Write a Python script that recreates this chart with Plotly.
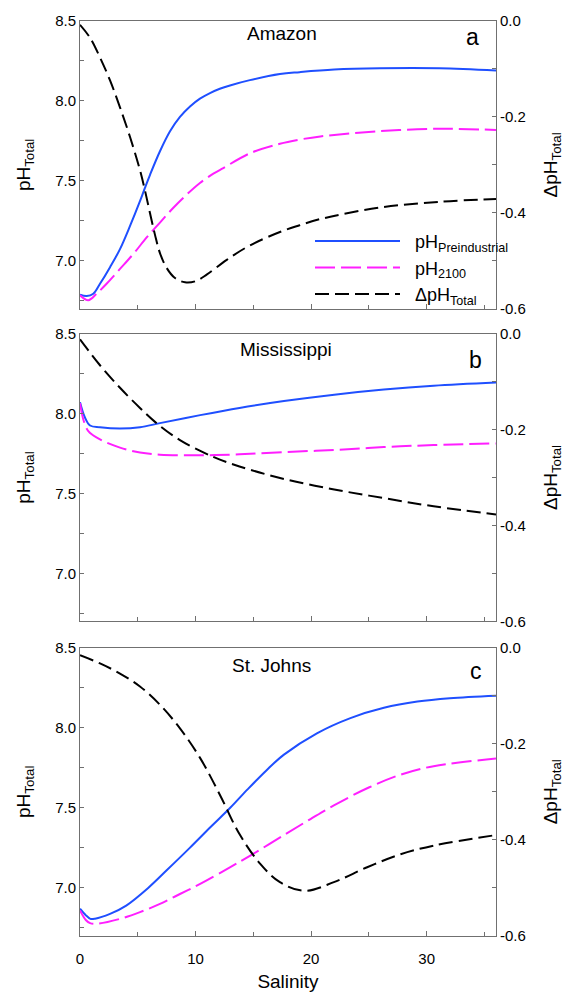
import plotly.graph_objects as go

# ---------------- data ----------------
# Panel a: Amazon
sal_a = [0, 0.58, 1.15, 1.73, 2.6, 3.46, 4.33, 5.19, 5.62, 6.06, 6.92, 7.79, 8.65, 9.52,
         10.38, 11.25, 12.1, 12.98, 14.7, 17.3, 19.0, 22.0, 25.95, 31.1, 36.0]
ph_pre_a = [6.788, 6.78, 6.794, 6.856, 6.96, 7.073, 7.218, 7.373, 7.456, 7.538, 7.685, 7.81,
            7.90, 7.965, 8.014, 8.049, 8.076, 8.097, 8.13, 8.168, 8.18, 8.196, 8.204, 8.204, 8.19]
sal_a2 = [0, 0.72, 1.44, 2.3, 3.46, 4.61, 5.77, 6.92, 8.08, 9.23, 10.38, 11.54, 12.4,
          14.7, 17.3, 19.0, 20.8, 25.95, 31.1, 36.0]
ph_2100_a = [6.784, 6.753, 6.794, 6.856, 6.949, 7.042, 7.146, 7.239, 7.332, 7.414, 7.487,
             7.545, 7.58, 7.672, 7.732, 7.758, 7.778, 7.811, 7.826, 7.818]
sal_a3 = [0, 0.87, 1.73, 2.6, 3.46, 4.33, 5.19, 5.62, 6.06, 6.49, 6.92, 7.5, 8.22, 9.09,
          9.95, 10.96, 12.7, 14.7, 17.3, 19.0, 20.8, 25.95, 31.1, 36.0]
dph_a = [-0.008, -0.035, -0.076, -0.124, -0.18, -0.242, -0.311, -0.353, -0.401, -0.446,
         -0.484, -0.515, -0.536, -0.545, -0.543, -0.529, -0.498, -0.468, -0.44, -0.426,
         -0.413, -0.389, -0.377, -0.371]

# Panel b: Mississippi
sal_b = [0, 0.4, 0.87, 1.73, 3.46, 5.19, 6.92, 10.4, 13.8, 17.65, 22.0, 26.3, 30.6, 36.0]
ph_pre_b = [8.07, 7.98, 7.925, 7.914, 7.906, 7.914, 7.94, 7.99, 8.035, 8.078, 8.118, 8.150,
            8.174, 8.194]
sal_b2 = [0, 0.3, 0.72, 1.73, 3.46, 5.19, 6.92, 10.4, 13.8, 17.65, 22.0, 26.3, 30.6, 36.0]
ph_2100_b = [8.065, 7.96, 7.89, 7.838, 7.787, 7.756, 7.743, 7.739, 7.745, 7.759, 7.772, 7.79,
             7.803, 7.813]
sal_b3 = [0, 1.73, 3.46, 5.19, 6.49, 8.65, 11.53, 13.8, 17.65, 22.0, 26.3, 30.6, 36.0]
dph_b = [-0.012, -0.066, -0.113, -0.155, -0.184, -0.222, -0.257, -0.277, -0.303, -0.325,
         -0.343, -0.36, -0.377]

# Panel c: St. Johns
sal_c = [0, 0.5, 0.9, 1.3, 2.6, 4.0, 5.9, 7.5, 9.5, 11.3, 13.0, 14.5, 16.15, 17.65, 20.5,
         23.4, 26.3, 29.2, 32.0, 36.0]
ph_pre_c = [6.87, 6.83, 6.807, 6.808, 6.838, 6.89, 7.0, 7.11, 7.25, 7.38, 7.5, 7.615, 7.735,
            7.832, 7.965, 8.06, 8.124, 8.163, 8.184, 8.20]
sal_c2 = [0, 0.5, 0.87, 1.44, 3.46, 5.19, 6.92, 8.65, 10.4, 12.97, 14.7, 17.65, 19.95,
          21.97, 24.85, 27.74, 30.6, 36.0]
ph_2100_c = [6.86, 6.8, 6.78, 6.776, 6.807, 6.849, 6.90, 6.962, 7.025, 7.128, 7.20, 7.33,
             7.43, 7.515, 7.622, 7.707, 7.76, 7.807]
sal_c3 = [0, 1.73, 3.46, 5.19, 6.92, 8.65, 10.4, 12.1, 13.8, 15.6, 17.3, 19.4, 21.97, 24.85,
          27.74, 30.6, 36.0]
dph_c = [-0.016, -0.033, -0.054, -0.081, -0.119, -0.168, -0.23, -0.306, -0.388, -0.45,
         -0.488, -0.506, -0.488, -0.457, -0.43, -0.412, -0.39]

panel_names = ["Amazon", "Mississippi", "St. Johns"]
panel_letters = ["a", "b", "c"]
series_names = ["pH<sub>Preindustrial</sub>", "pH<sub>2100</sub>", "ΔpH<sub>Total</sub>"]
x_ticks = [0, 10, 20, 30]
ph_ticks = [7.0, 7.5, 8.0, 8.5]
dph_ticks = [-0.6, -0.4, -0.2, 0.0]
dph_ticklabels = ["-0.6", "-0.4", "-0.2", "0.0"]

# ---------------- styling / layout ----------------
W, H = 574, 1000
ML, MR, MT, MB = 80, 78, 19, 61
PW, PH = W - ML - MR, H - MT - MB
FONT = "Liberation Sans, Arial, sans-serif"
AXC = "#707070"
BLUE = "#1f4fff"
MAG = "#ff1fff"
NB = "\u00a0\u00a0"  # small gap between legend sample and its text

panel_px = [(19, 308.3), (333.3, 622.7), (649, 939)]


def py(ypx):
    return 1 - (ypx - MT) / PH


def px(xpx):
    return (xpx - ML) / PW


panels = [
    (sal_a, ph_pre_a, sal_a2, ph_2100_a, sal_a3, dph_a),
    (sal_b, ph_pre_b, sal_b2, ph_2100_b, sal_b3, dph_b),
    (sal_c, ph_pre_c, sal_c2, ph_2100_c, sal_c3, dph_c),
]

fig = go.Figure()
layout = dict(
    width=W, height=H,
    margin=dict(l=ML, r=MR, t=MT, b=MB, pad=0),
    paper_bgcolor="white", plot_bgcolor="white",
    font=dict(family=FONT, size=15, color="black"),
    showlegend=True,
    legend=dict(
        x=px(310), y=py(222), xanchor="left", yanchor="top",
        bgcolor="rgba(0,0,0,0)", borderwidth=0,
        font=dict(family=FONT, size=18, color="black"),
        itemwidth=85, tracegroupgap=0,
    ),
)
annotations = []

for i, (sx1, y1, sx2, y2, sx3, y3) in enumerate(panels):
    xa = "x" if i == 0 else f"x{i+1}"
    ya_l = "y" if i == 0 else f"y{2*i+1}"
    ya_r = f"y{2*i+2}"
    show = (i == 0)
    fig.add_trace(go.Scatter(x=sx1, y=y1, xaxis=xa, yaxis=ya_l, mode="lines",
                             line=dict(color=BLUE, width=2, shape="spline", smoothing=1.0),
                             name=NB + series_names[0], showlegend=show))
    fig.add_trace(go.Scatter(x=sx2, y=y2, xaxis=xa, yaxis=ya_l, mode="lines",
                             line=dict(color=MAG, width=2, dash="20px,6px", shape="spline",
                                       smoothing=1.0),
                             name=NB + series_names[1], showlegend=show))
    fig.add_trace(go.Scatter(x=sx3, y=y3, xaxis=xa, yaxis=ya_r, mode="lines",
                             line=dict(color="black", width=2, dash="14px,6px", shape="spline",
                                       smoothing=1.0),
                             name=NB + series_names[2], showlegend=show))

    top, bot = panel_px[i]
    dom = [py(bot), py(top)]
    xkey = "xaxis" if i == 0 else f"xaxis{i+1}"
    ylkey = "yaxis" if i == 0 else f"yaxis{2*i+1}"
    yrkey = f"yaxis{2*i+2}"
    layout[xkey] = dict(
        domain=[0, 1], anchor=ya_l, range=[0, 36],
        showline=True, linecolor=AXC, linewidth=1, mirror=True,
        ticks="inside", ticklen=5, tickcolor=AXC, tickwidth=1,
        tickmode="array", tickvals=x_ticks, showticklabels=(i == 2),
        tickfont=dict(size=15), showgrid=False, zeroline=False,
        minor=dict(ticks="inside", ticklen=4, tickcolor=AXC, dtick=5, tick0=0),
    )
    if i == 2:
        layout[xkey]["ticklabelstandoff"] = 9
        layout[xkey]["title"] = dict(text="Salinity", font=dict(size=19), standoff=8)
    layout[ylkey] = dict(
        domain=dom, anchor=xa, range=[6.7, 8.5],
        showline=True, linecolor=AXC, linewidth=1,
        ticks="inside", ticklen=4, tickcolor=AXC, tickwidth=1,
        tickmode="array", tickvals=ph_ticks, tickformat=".1f",
        tickfont=dict(size=15), showgrid=False, zeroline=False,
        minor=dict(ticks="inside", ticklen=4, tickcolor=AXC,
                   tickmode="array", tickvals=[6.75, 7.25, 7.75, 8.25]),
        title=dict(text="pH<sub>Total</sub>", font=dict(size=19), standoff=19),
    )
    layout[yrkey] = dict(
        overlaying=ya_l, side="right", anchor=xa, range=[-0.6, 0.0],
        showline=True, linecolor=AXC, linewidth=1,
        ticks="inside", ticklen=4, tickcolor=AXC, tickwidth=1,
        tickmode="array", tickvals=dph_ticks, ticktext=dph_ticklabels,
        tickfont=dict(size=15), showgrid=False, zeroline=False,
        minor=dict(ticks="inside", ticklen=4, tickcolor=AXC,
                   tickmode="array", tickvals=[-0.5, -0.3, -0.1]),
        title=dict(text="ΔpH<sub>Total</sub>", font=dict(size=19), standoff=18),
    )

title_pos = [(282, 32), (286, 349), (271, 667)]
letter_pos = [(472, 35), (475, 360), (476, 673)]
for i in range(3):
    annotations.append(dict(text=panel_names[i], xref="paper", yref="paper",
                            x=px(title_pos[i][0]), y=py(title_pos[i][1]),
                            xanchor="center", yanchor="middle", showarrow=False,
                            font=dict(size=19)))
    annotations.append(dict(text=panel_letters[i], xref="paper", yref="paper",
                            x=px(letter_pos[i][0]), y=py(letter_pos[i][1]),
                            xanchor="center", yanchor="middle", showarrow=False,
                            font=dict(size=23)))
layout["annotations"] = annotations
fig.update_layout(**layout)
fig.write_html(
    "out.html", config={"displayModeBar": False},
    post_script=("document.body.style.margin='0';"
                 "document.documentElement.style.overflow='hidden';"
                 "document.body.style.overflow='hidden';"
                 "var g=document.getElementById('{plot_id}');g.style.overflow='hidden';"),
)
